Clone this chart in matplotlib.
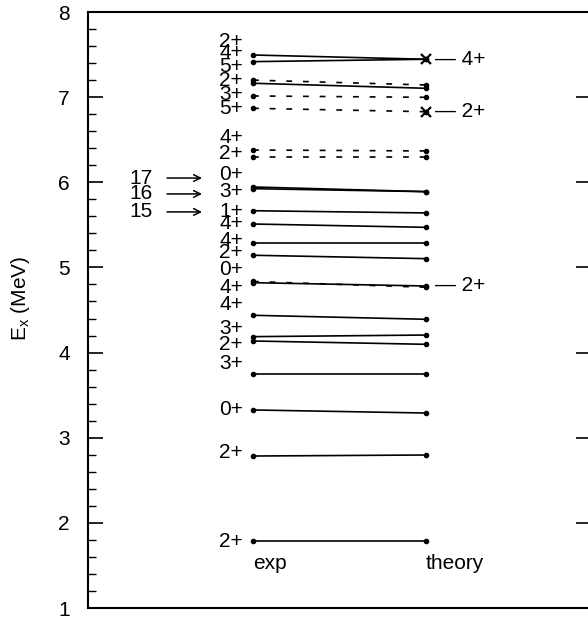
import matplotlib
matplotlib.use('Agg')
import matplotlib.pyplot as plt
from matplotlib.ticker import MultipleLocator

plt.rcParams['font.family'] = ['Liberation Sans', 'DejaVu Sans']
plt.rcParams['mathtext.fontset'] = 'custom'
plt.rcParams['mathtext.rm'] = 'Liberation Sans'

# ---- data ----
exp_solid = [7.495, 7.417, 7.163, 5.945, 5.925, 5.666, 5.510, 5.284, 5.143,
             4.821, 4.438, 4.187, 4.136, 3.752, 3.326, 2.785, 1.787]
th_solid = [7.445, 7.445, 7.104, 5.890, 5.890, 5.640, 5.471, 5.284, 5.103,
            4.782, 4.391, 4.206, 4.097, 3.752, 3.290, 2.797, 1.787]
exp_dash = [7.200, 7.014, 6.869, 6.379, 6.301, 4.835]
th_dash = [7.143, 6.998, 6.829, 6.368, 6.301, 4.767]

cross_levels = [7.445, 6.829]

exp_labels = ['2+', '4+', '5+', '2+', '3+', '5+', '4+', '2+', '0+', '3+', '1+',
              '4+', '4+', '2+', '0+', '4+', '4+', '3+', '2+', '3+', '0+', '2+', '2+']
exp_label_y = [7.651, 7.519, 7.358, 7.190, 7.030, 6.869, 6.528, 6.340, 6.086,
               5.890, 5.655, 5.518, 5.314, 5.173, 4.970, 4.767, 4.559, 4.285,
               4.089, 3.874, 3.334, 2.824, 1.779]

th_labels = ['4+', '2+', '2+']
th_label_y = [7.445, 6.829, 4.782]

arrow_labels = ['17', '16', '15']
arrow_y = [6.050, 5.863, 5.652]

col_names = ['exp', 'theory']
col_x = [1.0, 2.0]

FS = 15

# ---- figure ----
W, H = 588, 624
fig = plt.figure(figsize=(W / 100, H / 100), dpi=100)
ax = fig.add_axes([88 / W, (H - 608) / H, (591 - 88) / W, (608 - 12) / H])
ax.set_ylim(1, 8)
ax.set_xlim(0.046, 2.954)

for s in ax.spines.values():
    s.set_linewidth(1.5)

ax.set_xticks([])
ax.yaxis.set_major_locator(MultipleLocator(1))
ax.yaxis.set_minor_locator(MultipleLocator(0.2))
ax.tick_params(axis='y', which='major', direction='in', length=11, width=1.2,
               left=True, right=True, labelsize=FS, pad=13)
ax.tick_params(axis='y', which='minor', direction='in', length=6, width=1.0,
               left=True, right=False)
ax.set_ylabel(r'E$_\mathregular{x}$ (MeV)', fontsize=FS)
ax.yaxis.set_label_coords((32 - 88) / 503, 0.52)

xe, xt = col_x
for e, t in zip(exp_solid, th_solid):
    ax.plot([xe, xt], [e, t], color='k', lw=1.2, marker='o', ms=3,
            solid_capstyle='butt')
for e, t in zip(exp_dash, th_dash):
    ax.plot([xe, xt], [e, t], color='k', lw=1.2, ls=(0, (3.5, 6.5)),
            marker='o', ms=3)
for c in cross_levels:
    ax.plot([xt], [c], color='k', marker='x', ms=7, mew=1.6)

for txt, y in zip(exp_labels, exp_label_y):
    ax.text(0.942, y, txt, ha='right', va='center', fontsize=FS)

for txt, y in zip(th_labels, th_label_y):
    ax.text(2.05, y, '\u2014 ' + txt, ha='left', va='center', fontsize=FS)

for txt, y in zip(arrow_labels, arrow_y):
    ax.annotate('', xy=(0.705, y), xytext=(0.503, y),
                arrowprops=dict(arrowstyle='->', lw=1.1, color='k',
                                shrinkA=0, shrinkB=0, mutation_scale=12))
    ax.text(0.42, y, txt, ha='right', va='center', fontsize=FS)

for name, x in zip(col_names, col_x):
    ax.text(x, 1.458, name, ha='left', va='baseline', fontsize=FS)

fig.savefig('out.png', dpi=100)
